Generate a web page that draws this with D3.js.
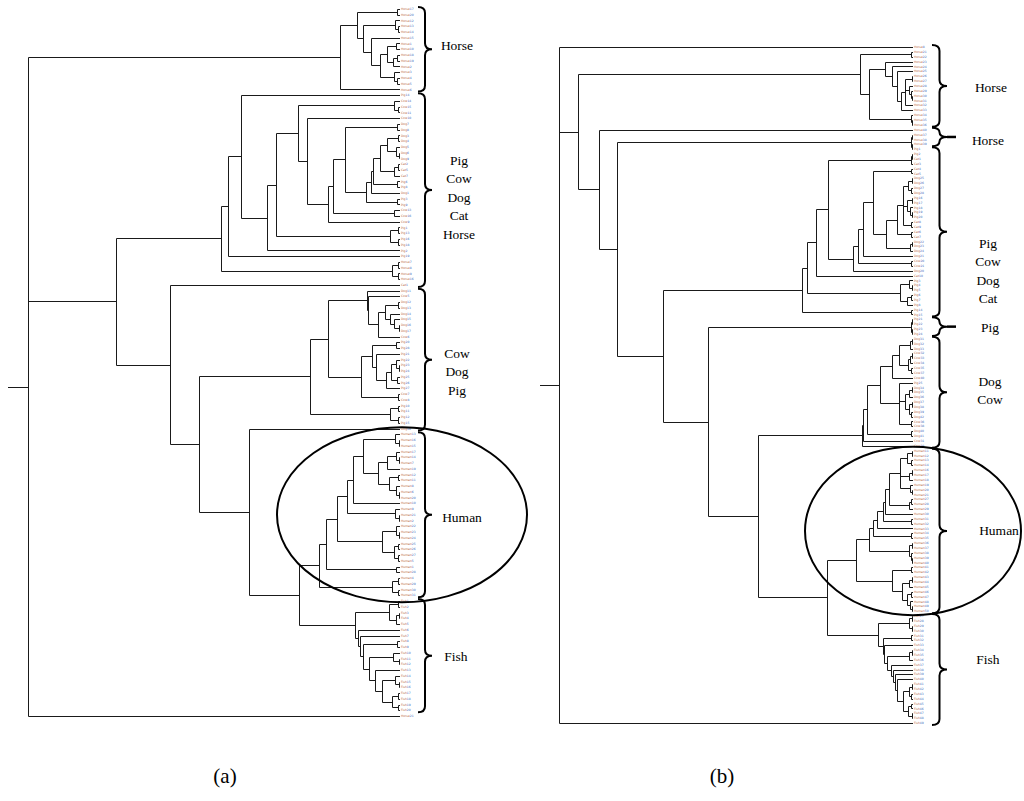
<!DOCTYPE html>
<html>
<head>
<meta charset="utf-8" />
<title>Dendrograms (a) and (b)</title>
<script src="https://d3js.org/d3.v7.min.js"></script>
<style>
  body { margin: 0; background: #fff; }
  .branch { stroke: #1a1a1a; stroke-width: 1; fill: none; }
  .brace { stroke: #000; stroke-width: 2; fill: none; }
  .ring { stroke: #000; stroke-width: 2; fill: none; }
  .group { font-family: "Liberation Serif", "Times New Roman", serif; font-size: 13.5px; fill: #000; }
  .leaf { font-family: "DejaVu Sans", sans-serif; font-size: 3px; }
  .caption { font-family: "Liberation Serif", "Times New Roman", serif; font-size: 21px; }
</style>
</head>
<body>
<div id="chart"></div>
<script>
// ---- tree data: Newick-like strings, internal node label = node height (root = 100) ----

// panel (a)
const horseA = "(((Horse17,Horse20)0.8,((Horse12,(Horse13,Horse14)0.6)1.3,(Horse15,(((Horse1,Horse10)1.1,((Horse18,Horse19)0.7,Horse2)2.0)3.5,(Horse3,(Horse4,Horse5)0.8)1.6)5.4)7.8)9.9)11.6,Horse6)16.1";
const mixedA = "(((Pig14,((((Cow14,(Cow15,Cow11)0.5)1.6,(Cow10,((((Dog7,Dog8)0.8,((((((Dog3,Dog4)0.6,(Dog5,(Dog6,Dog9)0.4)1.2)3.5,((Cat2,Cat5)0.6,Cat7)1.5)5.4,(Pig6,Pig8)0.7)7.3,Dog1)7.8,(Pig3,Pig9)0.8)9.1)14.8,(Cow13,Cow16)1.6)18.0,Cow9)19.4)25.0)27.4,((Pig1,Pig13)0.6,(Pig16,Pig18)0.5)2.7)33.3,Pig2)35.8)42.7,Pig19)46.2,((Horse7,Horse8)0.6,(Horse9,Horse16)0.5)2.2)48.1";
const cowDogPigA = "(((Dog11,(Cow5,(((Dog12,Dog13)0.6,(Dog14,(Dog15,(Dog16,Dog17)0.4)1.6)2.7)4.0,Cow6)5.9)8.6)8.9,(((Pig20,Pig28)1.0,(Pig21,(((Pig22,(Pig23,Pig24)0.4)1.2,(Pig25,Pig26)0.8)2.4,Pig27)3.8)6.5)7.5,(Cow7,Cow8)0.6)10.5)19.4,((Pig10,Pig11)0.6,(Pig12,Pig15)0.5)2.7)24.2";
const humanA = "(((((((Human13,(Human16,Human15)0.4)1.3,(((Human17,(Human14,Human7)0.4)1.0,Human19)3.5,((Human12,Human11)0.5,(Human8,(Human6,Human20)0.4)1.2)3.0)5.9)9.9,Human10)12.6,(Human9,(Human21,Human2)0.4)1.3)14.2,((Human22,(Human23,Human24)0.4)1.0,((Human25,Human26)0.5,(Human27,Human5)0.6)1.6)4.8)16.9,(Human1,Human28)1.1)19.9,((Human4,Human29)0.5,(Human30,Human31)0.6)2.2)21.8";
const fishA = "(((Fish1,Fish2)0.5,((Fish3,Fish4)0.4,Fish5)1.2)3.0,(Fish6,(Fish7,((Fish8,Fish9)0.8,((Fish10,(Fish11,Fish12)0.4)1.9,(Fish13,((Fish14,(Fish15,Fish16)0.4)1.3,((Fish17,Fish18)0.5,(Fish19,Fish20)0.6)2.2)4.8)6.7)8.3)9.9)10.8)11.3)12.1";
const treeA = `(${horseA},(${mixedA},(Cat1,(${cowDogPigA},(Dog10,(${humanA},${fishA})27.2)40.6)54.0)61.8)76.3,Horse21)100`;

// panel (b)
const horseB = "((Horse21,Horse22)0.6,((Horse23,(Horse24,(Horse25,(((Horse26,Horse27)0.4,(Horse28,(Horse29,(Horse30,Horse31)0.3)0.6)1.2,Horse32)2.3,Horse33)3.4)4.5)5.9)7.9,(Horse34,(Horse35,Horse36)0.3)0.6)12.4)15.0";
const horseSmallB = "((Horse37,Horse38)0.3,(Horse39,Pig1)0.4)0.6";
const mixedB = "((((((Pig2,Cat1)0.3,Cat3)0.6,(((((Cat4,Cat5)0.6,(((((Dog25,Dog26)0.4,(Dog27,Dog28)0.5)1.5,((Pig16,Pig17)0.4,(Pig18,(Pig19,Pig20)0.3)0.9)1.8,(Cat8,Cat9)0.6)2.8,(Cat6,Cat7)0.5)4.5,((Dog22,Dog23)0.4,Dog24)0.9)7.6)11.3,Dog21)14.1,(Cow20,Cow21)0.6)15.5,Dog20)16.9)24.0,Cat10)27.4,((Pig3,(Pig4,Pig5)0.4)1.0,((Pig6,Pig7)0.5,Pig8)1.6)3.7)29.9,(Pig14,Pig15)0.6)31.4";
const pigB = "((Pig21,Pig22)0.3,(Pig23,Pig24)0.3)0.6";
const dogCowB = "((((((((Dog31,Dog32)0.4,Dog33)0.9,(((Cow32,Cow33)0.4,Cow34)0.8,(Cow35,Cow37)0.5)1.4)3.9,Cow40)5.9,(Pig25,(((Dog34,Dog35)0.4,Dog36)1.0,((Dog37,Dog38)0.4,(Dog39,Dog42)0.5)1.2)2.4,(Cow36,Cow38)0.7)3.9)9.3,(Dog40,Dog41)0.6)13.0,Cow31)14.1,Cow30)14.4";
const humanB = "((((((((((Human11,Human12)0.4,(Human13,Human14)0.5)1.6,((Human16,Human17)0.4,Human18)1.0,(Human19,(Human20,Human21)0.3)0.8)3.7,((Human27,Human28)0.5,Human29)1.1)6.8,Human30)7.9,(Human31,Human32)0.6)8.5,Human33)10.2,(Human34,Human35)0.5)11.3,((Human36,Human37)0.3,(Human38,(Human39,Human40)0.3)0.6)1.0)12.4,((Human41,Human42)0.6,(((Human43,Human44)0.4,Human45)1.0,((Human46,Human47)0.5,(Human48,(Human49,Human50)0.3)0.8)1.6)3.2)5.9)16.1";
const fishB = "(((Fish27,Fish28)0.4,(Fish29,Fish30)0.3)1.0,((Fish31,Fish32)0.6,(Fish33,(((Fish34,Fish35)0.4,Fish36)1.0,(Fish37,(Fish38,(Fish39,(Fish40,(((Fish41,Fish42)0.4,(Fish43,Fish44)0.5)1.2,((Fish45,Fish46)0.5,(Fish47,Fish48)0.4)1.5)2.8)4.5)5.1)5.6)6.2)7.3)8.2)8.5)9.9";
const treeB = `(Horse8,(${horseB},(Horse40,(${horseSmallB},(${mixedB},(${pigB},(${dogCowB},(${humanB},${fishB})24.3)43.8)57.9)70.6)83.6)88.7)94.6,Fish49)100`;

// group brackets: leaf index ranges and labels
const groupNamesA = [["Horse"], ["Pig", "Cow", "Dog", "Cat", "Horse"], ["Cow", "Dog", "Pig"], ["Human"], ["Fish"]];
const groupRangesA = [[0, 14], [15, 48], [49, 73], [74, 102], [103, 122]];
const groupNamesB = [["Horse"], ["Horse"], ["Pig", "Cow", "Dog", "Cat"], ["Pig"], ["Dog", "Cow"], ["Human"], ["Fish"]];
const groupRangesB = [[0, 16], [17, 20], [21, 55], [56, 59], [60, 82], [83, 116], [117, 139]];
const smallGroupsB = [1, 3];
const circledGroup = "Human";

// ---- layout ----
const W = 1024, H = 801;
const panels = [
  { tree: treeA, names: groupNamesA, ranges: groupRangesA, small: [],
    stubX: 8, rootX: 28, leafX: 400, yTop: 9, yBottom: 716,
    braceX0: 418, braceX1: 432, labelX: 457,
    labelShift: [-4, 7, 12, 3, 1], labelDx: [0, 2, 0, 5, -1],
    ringRx: 125, ringPad: 5, ringDx: 2,
    caption: "(a)", captionX: 225 },
  { tree: treeB, names: groupNamesB, ranges: groupRangesB, small: smallGroupsB,
    stubX: 540, rootX: 559, leafX: 913, yTop: 47, yBottom: 723,
    braceX0: 932, braceX1: 947, labelX: 990,
    labelShift: [2, 4, 39, 1, -2, 0, -10], labelDx: [1, -2, -2, 0, 0, 9, -2],
    ringRx: 108, ringPad: 2, ringDx: 0,
    caption: "(b)", captionX: 722 }
];

function parseTree(str) {
  const s = str.replace(/\s+/g, "");
  let i = 0;
  const token = () => {
    let t = "";
    while (i < s.length && "(),".indexOf(s[i]) < 0) t += s[i++];
    return t;
  };
  const node = () => {
    if (s[i] === "(") {
      i++;
      const children = [node()];
      while (s[i] === ",") { i++; children.push(node()); }
      i++; // ')'
      return { children: children, height: +token() };
    }
    return { name: token(), height: 0 };
  };
  return node();
}

const px = v => Math.round(v) + 0.5;

const svg = d3.select("#chart").append("svg")
  .attr("width", W)
  .attr("height", H);

function bracePath(x0, x1, y1, y2) {
  const xm = (x0 + x1) / 2, ym = (y1 + y2) / 2;
  const r = Math.min(6, (y2 - y1) / 4);
  return `M${x0},${y1} Q${xm},${y1} ${xm},${y1 + r} L${xm},${ym - r} Q${xm},${ym} ${x1},${ym}` +
         ` Q${xm},${ym} ${xm},${ym + r} L${xm},${y2 - r} Q${xm},${y2} ${x0},${y2}`;
}

panels.forEach(p => {
  const root = d3.hierarchy(parseTree(p.tree));
  const leaves = root.leaves();
  console.log(p.caption, "leaves:", leaves.length);

  const y = d3.scaleLinear().domain([0, leaves.length - 1]).range([p.yTop, p.yBottom]);
  const x = d3.scaleLinear().domain([0, 100]).range([p.leafX, p.rootX]);

  leaves.forEach((d, i) => { d.py = y(i); });
  root.eachAfter(d => {
    if (d.children) d.py = (d.children[0].py + d.children[d.children.length - 1].py) / 2;
    d.px = x(d.data.height);
  });

  const g = svg.append("g");

  // elbow branches
  let path = `M${p.stubX},${px(root.py)}H${px(root.px)}`;
  root.each(d => {
    if (!d.children) return;
    const first = d.children[0], last = d.children[d.children.length - 1];
    path += `M${px(d.px)},${px(first.py)}V${px(last.py)}`;
    d.children.forEach(c => { path += `M${px(d.px)},${px(c.py)}H${c.children ? px(c.px) : c.px}`; });
  });
  g.append("path").attr("class", "branch").attr("d", path);

  // tiny leaf labels
  const lab = g.append("g").selectAll("text")
    .data(leaves)
    .join("text")
      .attr("class", "leaf")
      .attr("x", p.leafX + 1)
      .attr("y", d => d.py + 1.1);
  lab.append("tspan").attr("fill", "#b8693e").text(d => d.data.name.replace(/\d+$/, ""));
  lab.append("tspan").attr("fill", "#3c68b8").text(d => (d.data.name.match(/\d+$/) || [""])[0]);

  // braces and group names
  p.ranges.forEach((r, k) => {
    const y1 = y(r[0]) - 2, y2 = y(r[1]) + 2, ym = (y1 + y2) / 2;
    g.append("path").attr("class", "brace").attr("d", bracePath(p.braceX0, p.braceX1, y1, y2));
    if (p.small.includes(k)) {
      g.append("line")
        .attr("x1", p.braceX1).attr("x2", p.braceX1 + 9)
        .attr("y1", ym).attr("y2", ym)
        .attr("stroke", "#000").attr("stroke-width", 2.5);
    }
    const lines = p.names[k];
    const lh = 18.5;
    const cy = ym + p.labelShift[k];
    const t = g.append("text").attr("class", "group").attr("text-anchor", "middle");
    lines.forEach((ln, j) => {
      t.append("tspan")
        .attr("x", p.labelX + p.labelDx[k])
        .attr("y", cy + (j - (lines.length - 1) / 2) * lh + 4.5)
        .text(ln);
    });

    if (lines[0] === circledGroup) {
      g.append("ellipse").attr("class", "ring")
        .attr("cx", p.leafX + p.ringDx)
        .attr("cy", ym)
        .attr("rx", p.ringRx)
        .attr("ry", (y2 - y1) / 2 + p.ringPad);
    }
  });

  svg.append("text").attr("class", "caption")
    .attr("x", p.captionX).attr("y", 783)
    .attr("text-anchor", "middle")
    .text(p.caption);
});
</script>
</body>
</html>
